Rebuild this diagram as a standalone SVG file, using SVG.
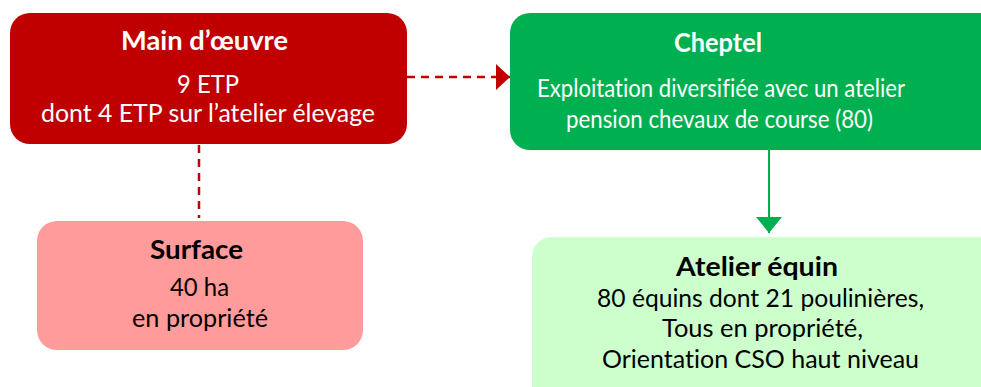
<svg xmlns="http://www.w3.org/2000/svg" width="981" height="387" viewBox="0 0 981 387">
<defs>
<style>
text{font-family:Lato,"Open Sans","Liberation Sans",sans-serif;font-size:25px;text-anchor:middle;font-variant-ligatures:none}
.t{font-weight:bold;font-size:26px}
.w{fill:#ffffff}
.k{fill:#000000}
</style>
<marker id="ar" viewBox="0 0 14 26" refX="14" refY="13" markerWidth="14" markerHeight="26" markerUnits="userSpaceOnUse" orient="auto"><path d="M0,0 L14,13 L0,26 Z" fill="#C00000"/></marker>
<marker id="ag" viewBox="0 0 16 26" refX="16" refY="13" markerWidth="16" markerHeight="26" markerUnits="userSpaceOnUse" orient="auto"><path d="M0,0 L16,13 L0,26 Z" fill="#00B050"/></marker>
</defs>
<g id="connectors">
<line x1="407" y1="77" x2="510" y2="77" stroke="#C00000" stroke-width="2.5" stroke-dasharray="8,6" marker-end="url(#ar)"/>
<line x1="199" y1="145" x2="199" y2="218" stroke="#C00000" stroke-width="2.5" stroke-dasharray="8,6"/>
<line x1="769" y1="150" x2="769" y2="233" stroke="#00B050" stroke-width="2" marker-end="url(#ag)"/>
</g>
<g id="main-oeuvre">
<rect x="10" y="13" width="397" height="131" rx="20" fill="#C00000"/>
<text class="t w" x="204.5" y="50" textLength="167" lengthAdjust="spacingAndGlyphs">Main d’œuvre</text>
<text class="w" x="208" y="93" textLength="62" lengthAdjust="spacingAndGlyphs">9 ETP</text>
<text class="w" x="208" y="122" textLength="334" lengthAdjust="spacingAndGlyphs">dont 4 ETP sur l’atelier élevage</text>
</g>
<g id="cheptel">
<rect x="510" y="13" width="500" height="137" rx="20" fill="#00B050"/>
<text class="t w" x="718" y="52" textLength="88" lengthAdjust="spacingAndGlyphs">Cheptel</text>
<text class="w" x="721" y="97" textLength="368" lengthAdjust="spacingAndGlyphs">Exploitation diversifiée avec un atelier</text>
<text class="w" x="719.5" y="128" textLength="307" lengthAdjust="spacingAndGlyphs">pension chevaux de course (80)</text>
</g>
<g id="surface">
<rect x="37" y="221" width="326" height="129" rx="20" fill="#FF9B9B"/>
<text class="t k" x="196.5" y="259" textLength="93" lengthAdjust="spacingAndGlyphs">Surface</text>
<text class="k" x="199.5" y="296" textLength="59" lengthAdjust="spacingAndGlyphs">40 ha</text>
<text class="k" x="200" y="327" textLength="136" lengthAdjust="spacingAndGlyphs">en propriété</text>
</g>
<g id="atelier-equin">
<rect x="532" y="237" width="480" height="170" rx="20" fill="#CCFFCC"/>
<text class="t k" x="757" y="276" textLength="162" lengthAdjust="spacingAndGlyphs">Atelier équin</text>
<text class="k" x="760.5" y="307" textLength="327" lengthAdjust="spacingAndGlyphs">80 équins dont 21 poulinières,</text>
<text class="k" x="762.5" y="337" textLength="201" lengthAdjust="spacingAndGlyphs">Tous en propriété,</text>
<text class="k" x="760.5" y="368" textLength="317" lengthAdjust="spacingAndGlyphs">Orientation CSO haut niveau</text>
</g>
</svg>
